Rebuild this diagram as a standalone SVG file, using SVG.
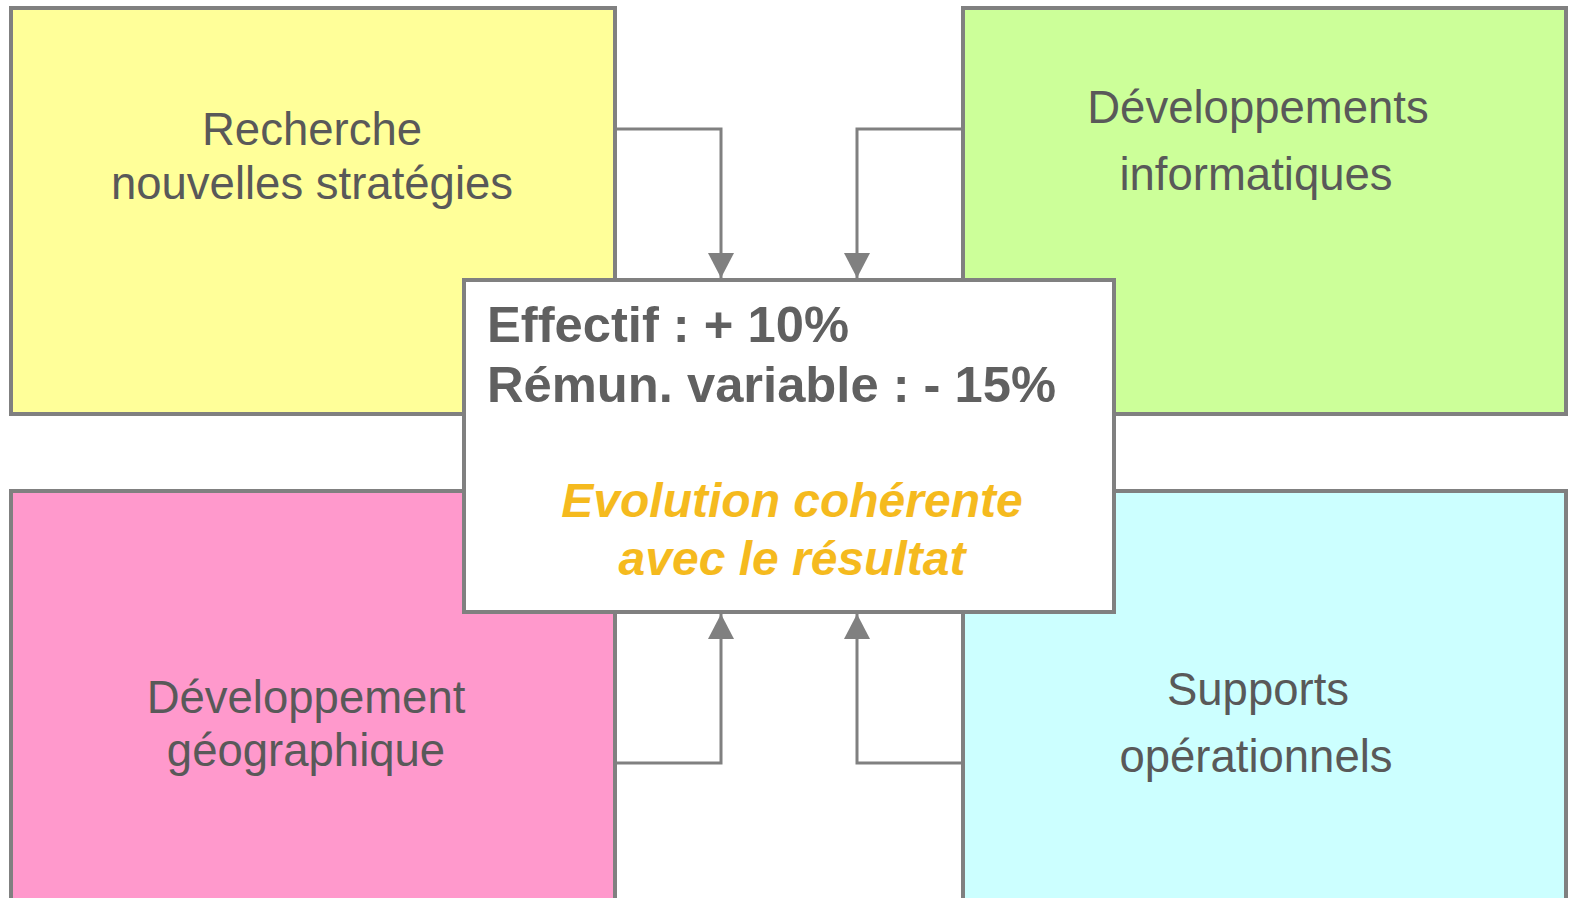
<svg xmlns="http://www.w3.org/2000/svg" width="1569" height="898" viewBox="0 0 1569 898">
<style>
.box{stroke:#808080;stroke-width:4}
.lbl{font-family:"Liberation Sans",Arial,sans-serif;font-size:45.5px;fill:#595959;text-anchor:middle}
.big{font-family:"Liberation Sans",Arial,sans-serif;font-size:50.7px;font-weight:bold;fill:#606060}
.ora{font-family:"Liberation Sans",Arial,sans-serif;font-size:48px;font-weight:bold;font-style:italic;fill:#F5BA1E;text-anchor:middle}
.con{fill:none;stroke:#808080;stroke-width:3}
</style>
<defs>
<marker id="ah" markerUnits="userSpaceOnUse" markerWidth="28" markerHeight="26" refX="25" refY="13" orient="auto">
<path d="M0,0 L25,13 L0,26 Z" fill="#808080"/>
</marker>
</defs>
<rect width="1569" height="898" fill="#ffffff"/>
<g id="n-recherche">
<rect class="box" x="11" y="8" width="604" height="406" fill="#FFFF99"/>
<text class="lbl" x="312" y="145">Recherche</text>
<text class="lbl" x="312" y="199">nouvelles stratégies</text>
</g>
<g id="n-informatique">
<rect class="box" x="963" y="8" width="603" height="406" fill="#CCFF99"/>
<text class="lbl" x="1258" y="123">Développements</text>
<text class="lbl" x="1256" y="190">informatiques</text>
</g>
<g id="n-geographique">
<rect class="box" x="11" y="491" width="604" height="420" fill="#FF99CC"/>
<text class="lbl" x="306" y="713">Développement</text>
<text class="lbl" x="306" y="766">géographique</text>
</g>
<g id="n-supports">
<rect class="box" x="963" y="491" width="603" height="420" fill="#CCFFFF"/>
<text class="lbl" x="1258" y="705">Supports</text>
<text class="lbl" x="1256" y="772">opérationnels</text>
</g>
<g id="connectors">
<path class="con" d="M615,129 H721 V278" marker-end="url(#ah)"/>
<path class="con" d="M963,129 H857 V278" marker-end="url(#ah)"/>
<path class="con" d="M615,763 H721 V614" marker-end="url(#ah)"/>
<path class="con" d="M963,763 H857 V614" marker-end="url(#ah)"/>
</g>
<g id="n-centre">
<rect class="box" x="464" y="280" width="650" height="332" fill="#ffffff"/>
<text class="big" x="487" y="342">Effectif : + 10%</text>
<text class="big" x="487" y="402">Rémun. variable : - 15%</text>
<text class="ora" x="792" y="517">Evolution cohérente</text>
<text class="ora" x="792" y="575">avec le résultat</text>
</g>
</svg>
